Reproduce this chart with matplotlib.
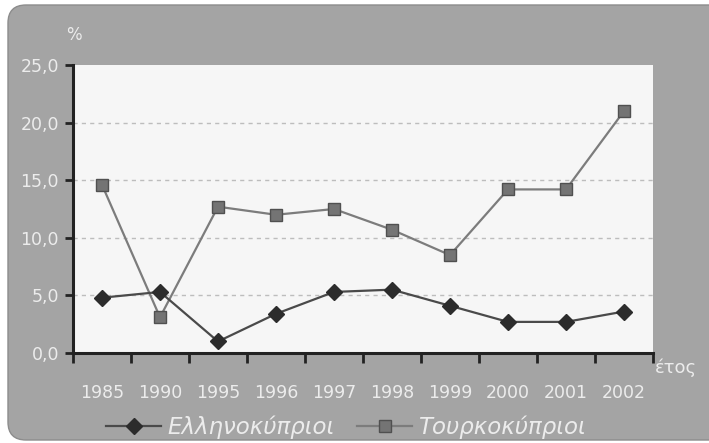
import matplotlib
matplotlib.use("Agg")
import matplotlib.pyplot as plt
from matplotlib.patches import FancyBboxPatch
import numpy as np

years = ["1985", "1990", "1995", "1996", "1997", "1998", "1999", "2000", "2001", "2002"]
greek_cypriots = [4.8, 5.3, 1.0, 3.4, 5.3, 5.5, 4.1, 2.7, 2.7, 3.6]
turkish_cypriots = [14.6, 3.1, 12.7, 12.0, 12.5, 10.7, 8.5, 14.2, 14.2, 21.0]
y_ticks = [0, 5, 10, 15, 20, 25]
y_labels = ["0,0", "5,0", "10,0", "15,0", "20,0", "25,0"]
label_gc = "Ελληνοκύπριοι"
label_tc = "Τουρκοκύπριοι"

plt.rcParams['font.family'] = ['DejaVu Sans']

W, H = 709, 443
fig = plt.figure(figsize=(W / 100, H / 100), dpi=100)
fig.patch.set_facecolor("white")

bg = FancyBboxPatch((8, 3), 760, 435, boxstyle="round,pad=0,rounding_size=18",
                    transform=None, facecolor="#a4a4a4", edgecolor="#8c8c8c",
                    linewidth=1.0, zorder=-10)
fig.patches.append(bg)

ax = fig.add_axes([73 / W, 90 / H, 580 / W, 288 / H])
ax.set_zorder(5)
ax.set_facecolor("#f6f6f6")

x = np.arange(len(years)) + 0.5
ax.plot(x, greek_cypriots, color="#4a4a4a", lw=1.6, marker="D", ms=8,
        mfc="#2c2c2c", mec="#2c2c2c", zorder=4)
ax.plot(x, turkish_cypriots, color="#7c7c7c", lw=1.6, marker="s", ms=9,
        mfc="#747474", mec="#505050", mew=1.0, zorder=3)

ax.set_xlim(0, len(years))
ax.set_ylim(0, 25)

for v in [5, 10, 15, 20]:
    ax.axhline(v, color="#bdbdbd", lw=1.0, ls=(0, (3, 3)), zorder=1)

ax.set_yticks(y_ticks)
ax.set_yticklabels(y_labels)
ax.set_xticks(np.arange(len(years) + 1))
ax.set_xticklabels([])
ax.set_xticks(x, minor=True)
ax.set_xticklabels(years, minor=True)
ax.tick_params(axis="x", which="major", length=7, width=2, color="#222222", direction="out")
ax.tick_params(axis="x", which="minor", length=0, pad=22, labelsize=12.5, labelcolor="#ececec")
ax.tick_params(axis="y", length=6, width=2, color="#222222", pad=4, labelsize=12.5, labelcolor="#ececec")

for s in ["top", "right"]:
    ax.spines[s].set_visible(False)
ax.spines["left"].set_linewidth(2.2)
ax.spines["left"].set_color("#222222")
ax.spines["bottom"].set_linewidth(2.2)
ax.spines["bottom"].set_color("#222222")

fig.text(66 / W, 1 - 35 / H, "%", color="#ececec", fontsize=12, ha="left", va="center")
fig.text(655 / W, 1 - 368 / H, "έτος", color="#ececec", fontsize=13, ha="left", va="center")

leg = fig.legend(
    [ax.lines[0], ax.lines[1]], [label_gc, label_tc],
    loc="center", bbox_to_anchor=(346 / W, 1 - 427 / H), ncol=2, frameon=False,
    handlelength=2.4, columnspacing=1.0, handletextpad=0.25,
    prop={"size": 16.5, "style": "italic"})
for t in leg.get_texts():
    t.set_color("#ececec")

fig.savefig("out.png", dpi=100, facecolor=fig.get_facecolor())
